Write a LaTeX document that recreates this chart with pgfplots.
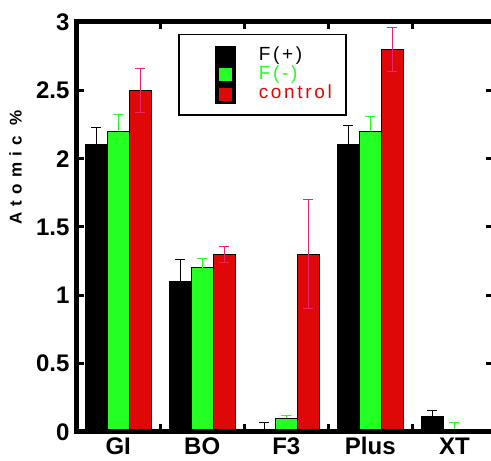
\documentclass[border=0pt]{standalone}
\usepackage{fontspec}
\setmainfont{Liberation Sans}
\usepackage{pgfplots}
\pgfplotsset{compat=1.18}
\definecolor{cgreen}{RGB}{36,255,36}
\definecolor{cred}{RGB}{222,8,8}
\definecolor{cerr}{RGB}{232,40,100}
\newcommand{\legimg}[1]{\node[inner sep=0pt, minimum width=66pt, minimum height=18.4pt, anchor=west] at (0pt,0pt) {}; \fill[black] (25pt,-9.2pt) rectangle (45pt,9.2pt); \fill[#1] (29pt,-6pt) rectangle (41pt,6pt);}
\begin{document}
\begin{tikzpicture}
\begin{axis}[
  scale only axis,
  width=416pt, height=410pt,
  xmin=-0.49, xmax=4.46,
  ymin=0, ymax=3,
  clip=false,
  ybar=0pt, bar width=22pt,
  xtick={0,1,2,3,4},
  xticklabels={GI,BO,F3,Plus,XT},
  major x tick style={draw=none},
  minor xtick={0.5,1.5,2.5,3.5},
  minor tick length=7.5pt,
  minor x tick style={line width=3pt, black},
  ytick={0,0.5,...,3},
  yticklabels={0,0.5,1,1.5,2,2.5,3},
  major tick length=7pt,
  major y tick style={line width=3pt, black},
  tick align=inside,
  tick pos=both,
  tick label style={font=\bfseries\fontsize{24}{24}\selectfont},
  /pgf/number format/assume math mode=true,
  xticklabel style={yshift=-2pt},
  yticklabel style={xshift=-4pt},
  ylabel={\addfontfeatures{LetterSpace=36}Atomic \%},
  ylabel style={font=\bfseries\fontsize{17}{17}\selectfont, at={(axis description cs:-0.148,0.645)}, anchor=center, rotate=0},
  legend style={at={(axis description cs:0.243,0.971)}, anchor=north west, draw=black, line width=1.5pt,
    inner xsep=12pt, inner ysep=11pt, row sep=0pt, column sep=0pt,
    font=\fontsize{19}{19}\selectfont\addfontfeatures{LetterSpace=14},
    nodes={text height=14pt, text depth=4.4pt, inner ysep=0pt}},
  legend cell align=left,
]
\addplot[fill=black, draw=black, line width=1pt, legend image code/.code={\legimg{black}},
  error bars/.cd, y dir=plus, y explicit,
  error bar style={black, line width=1pt}, error mark options={black, line width=1pt, mark size=5pt, rotate=90}]
  coordinates {(0,2.1) +- (0,0.13) (1,1.1) +- (0,0.16) (2,0) +- (0,0.07) (3,2.1) +- (0,0.14) (4,0.11) +- (0,0.05)};
\addlegendentry{\textcolor{black}{F(+)}}
\addplot[fill=cgreen, draw=black, line width=1pt, legend image code/.code={\legimg{cgreen}},
  error bars/.cd, y dir=plus, y explicit,
  error bar style={cgreen, line width=1pt}, error mark options={cgreen, line width=1pt, mark size=5pt, rotate=90}]
  coordinates {(0,2.2) +- (0,0.12) (1,1.2) +- (0,0.07) (2,0.1) +- (0,0.02) (3,2.2) +- (0,0.11) (4,0) +- (0,0.07)};
\addlegendentry{\textcolor{cgreen}{F(-)}}
\addplot[fill=cred, draw=black, line width=1pt, legend image code/.code={\legimg{cred}},
  error bars/.cd, y dir=both, y explicit,
  error bar style={cerr, line width=1pt}, error mark options={cerr, line width=1pt, mark size=5pt, rotate=90}]
  coordinates {(0,2.5) +- (0,0.16) (1,1.3) +- (0,0.06) (2,1.3) +- (0,0.4) (3,2.8) +- (0,0.16) (4,0) +- (0,0)};
\addlegendentry{\textcolor{cred}{control}}
\fill[black] ([shift={(-2.5pt,-2.5pt)}]rel axis cs:0,0) rectangle ([shift={(2.5pt,2.5pt)}]rel axis cs:0,1);
\fill[black] ([shift={(-2.5pt,-2.5pt)}]rel axis cs:0,0) rectangle ([shift={(2.5pt,2.5pt)}]rel axis cs:1,0);
\fill[black] ([shift={(-2.5pt,-2.5pt)}]rel axis cs:0,1) rectangle ([shift={(2.5pt,2.5pt)}]rel axis cs:1,1);
\coordinate (SW) at (rel axis cs:0,0);
\coordinate (NE) at (rel axis cs:1,1);
\end{axis}
\pgfresetboundingbox
\path[use as bounding box] ([xshift=-77pt,yshift=-29pt]SW) rectangle ([xshift=-2pt,yshift=22pt]NE);
\end{tikzpicture}
\end{document}
